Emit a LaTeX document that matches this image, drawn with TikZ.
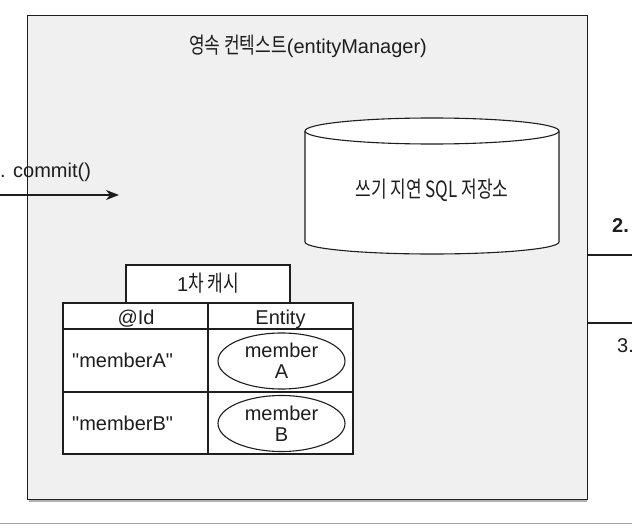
\documentclass[tikz,border=0pt]{standalone}
\usepackage{fontspec}
\setmainfont{Liberation Sans}
\newfontfamily\kr[Scale=1.12,FakeStretch=0.76]{Noto Sans CJK KR}
\usetikzlibrary{shapes.geometric,arrows.meta}
\definecolor{ctxfill}{RGB}{240,240,240}
\definecolor{ink}{RGB}{30,30,30}
\begin{document}
\begin{tikzpicture}[x=1pt,y=-1pt,
  txt/.style={inner sep=0pt, font=\fontsize{20}{21}\selectfont, text=ink},
  frame/.style={draw=ink, line width=1.1pt},
  cell/.style={frame, fill=white},
  entity/.style={ellipse, draw=ink, line width=1.1pt, fill=white, minimum width=127pt, minimum height=56pt, inner sep=0pt, align=center, font=\fontsize{20}{21}\selectfont, text=ink},
  link/.style={draw=ink, line width=1.1pt}
]
\useasboundingbox (0,0) rectangle (632,532);
\fill[white] (0,0) rectangle (632,532);
% bottom rule of the page
\draw[gray!70, line width=0.8pt] (0,523) -- (632,523);
% persistence context
\draw[gray!60, line width=2pt] (29,500.5) -- (587,500.5);
\node[frame, fill=ctxfill, line width=1.2pt, minimum width=560pt, minimum height=484pt, anchor=north west, inner sep=0pt] (ctx) at (27,15) {};
\node[txt, anchor=base] (title) at (308,54) {{\kr 영속 컨텍스트}(entityManager)};
% commit arrow
\coordinate (cstart) at (0,195);
\coordinate (cend) at (119,195);
\draw[link, -{Stealth[length=13pt, width=10pt, inset=4pt]}] (cstart) -- (cend);
\node[txt, anchor=base west] (commit) at (0,178) {. commit()};
% write-behind SQL store (cylinder)
\draw[cell] (305,131) -- (305,242) arc[start angle=180, end angle=0, x radius=127, y radius=12] -- (559,131);
\draw[cell] (432,131) ellipse[x radius=127, y radius=13];
\node[txt, anchor=base] (sqlstore) at (432,197) {\kr 쓰기 지연 SQL 저장소};
% outgoing lines on the right
\coordinate (out2) at (632,255);
\coordinate (out3) at (632,323);
\draw[link] (out2 -| ctx.east) -- (out2);
\draw[link] (out3 -| ctx.east) -- (out3);
\node[txt, anchor=base west, font=\fontsize{20}{21}\selectfont\bfseries] (two) at (612,232) {2.};
\node[txt, anchor=base west] (three) at (617,352) {3.};
% first-level cache
\draw[cell] (126,265) rectangle (290,303);
\node[txt, anchor=base] (cachetitle) at (208,291) {1{\kr 차 캐시}};
\draw[cell] (63,303) rectangle (353,454);
\draw[frame] (63,329) -- (353,329);
\draw[frame] (63,392) -- (353,392);
\draw[frame] (208,303) -- (208,454);
\node[txt, anchor=base] (idhead) at (136,324) {@Id};
\node[txt, anchor=base] (enthead) at (280.5,324) {Entity};
\node[txt, anchor=base west] (keyA) at (72,367) {\textquotedbl memberA\textquotedbl};
\node[txt, anchor=base west] (keyB) at (72,430) {\textquotedbl memberB\textquotedbl};
\node[entity] (entA) at (281.5,361) {member\\A};
\node[entity] (entB) at (281.5,423.5) {member\\B};
\end{tikzpicture}
\end{document}
